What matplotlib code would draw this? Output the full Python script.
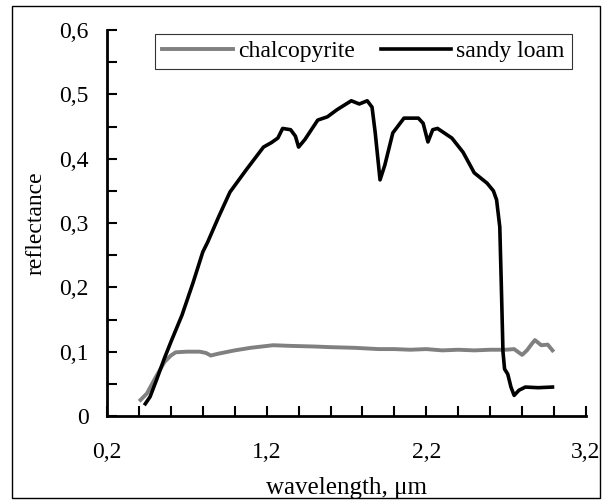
import matplotlib
matplotlib.use('Agg')
import matplotlib.pyplot as plt
from matplotlib.patches import Rectangle

# chalcopyrite spectrum (grey)
chalco_wl = [0.41, 0.45, 0.50, 0.56, 0.60, 0.63, 0.70, 0.78, 0.82, 0.85, 0.90, 1.00,
             1.10, 1.24, 1.35, 1.50, 1.60, 1.75, 1.90, 2.00, 2.10, 2.20, 2.30,
             2.40, 2.50, 2.60, 2.70, 2.75, 2.80, 2.83, 2.86, 2.88, 2.92, 2.96, 2.99]
chalco_r = [0.025, 0.035, 0.058, 0.084, 0.094, 0.099, 0.100, 0.100, 0.098, 0.094, 0.097, 0.102,
            0.106, 0.110, 0.109, 0.108, 0.107, 0.106, 0.104, 0.104, 0.103, 0.104, 0.102,
            0.103, 0.102, 0.103, 0.103, 0.104, 0.095, 0.102, 0.112, 0.118, 0.110, 0.111, 0.102]

# sandy loam spectrum (black)
loam_wl = [0.44, 0.47, 0.51, 0.56, 0.60, 0.67, 0.74, 0.80, 0.83, 0.90, 0.97, 1.07,
           1.18, 1.23, 1.27, 1.30, 1.35, 1.38, 1.40, 1.44, 1.52, 1.58, 1.64, 1.73,
           1.78, 1.83, 1.86, 1.88, 1.91, 1.94, 1.99, 2.06, 2.15, 2.18, 2.21, 2.24,
           2.27, 2.36, 2.43, 2.50, 2.58, 2.62, 2.64, 2.66, 2.67, 2.68, 2.69, 2.71,
           2.73, 2.75, 2.78, 2.82, 2.90, 2.99]
loam_r = [0.019, 0.030, 0.056, 0.090, 0.115, 0.157, 0.208, 0.255, 0.270, 0.310, 0.348, 0.382,
          0.418, 0.425, 0.432, 0.447, 0.445, 0.435, 0.418, 0.430, 0.460, 0.465, 0.476, 0.490,
          0.485, 0.490, 0.480, 0.440, 0.367, 0.390, 0.440, 0.463, 0.463, 0.455, 0.426, 0.445,
          0.447, 0.432, 0.410, 0.378, 0.362, 0.350, 0.336, 0.294, 0.200, 0.100, 0.073, 0.065,
          0.045, 0.032, 0.040, 0.045, 0.044, 0.045]

plt.rcParams['font.family'] = ['Liberation Serif', 'DejaVu Serif']

fig = plt.figure(figsize=(6.08, 5.04), dpi=100)
ax = fig.add_axes([107 / 608, 1 - 416 / 504, (586 - 107) / 608, (416 - 30) / 504])

ax.plot(chalco_wl, chalco_r, color='#808080', lw=2.8, label='chalcopyrite')
ax.plot(loam_wl, loam_r, color='black', lw=2.6, label='sandy loam')

ax.set_xlim(0.2, 3.2)
ax.set_ylim(0, 0.6)
ax.set_xticks([0.2, 1.2, 2.2, 3.2])
ax.set_xticks([0.2 + 0.2 * i for i in range(16)], minor=True)
ax.set_yticks([0.1 * i for i in range(7)])
ax.set_yticks([0.05 * i for i in range(13)], minor=True)
ax.set_xticklabels(['0,2', '1,2', '2,2', '3,2'])
ax.set_yticklabels(['0', '0,1', '0,2', '0,3', '0,4', '0,5', '0,6'])
ax.tick_params(which='both', direction='in', length=7, width=1.5, labelsize=17)
ax.tick_params(axis='x', which='both', pad=19)
ax.tick_params(axis='y', which='both', pad=13)
for s in ['top', 'right']:
    ax.spines[s].set_visible(False)
for s in ['left', 'bottom']:
    ax.spines[s].set_linewidth(2)

ax.set_xlabel('wavelength, μm', fontsize=18, labelpad=10)
ax.set_ylabel('reflectance', fontsize=17, labelpad=9)

leg = ax.legend(loc='upper center', ncol=2, fontsize=17, frameon=True, fancybox=False,
                edgecolor='black', handlelength=3.0, handletextpad=0.2,
                columnspacing=1.1, borderpad=0.3, borderaxespad=0.15,
                bbox_to_anchor=(0.535, 1.0))
leg.get_frame().set_linewidth(0.8)

fig.patches.append(Rectangle((12 / 608, 1 - 498 / 504), (600 - 12) / 608, (498 - 6) / 504,
                             transform=fig.transFigure, fill=False, edgecolor='black', lw=1))

fig.savefig('out.png', dpi=100)
